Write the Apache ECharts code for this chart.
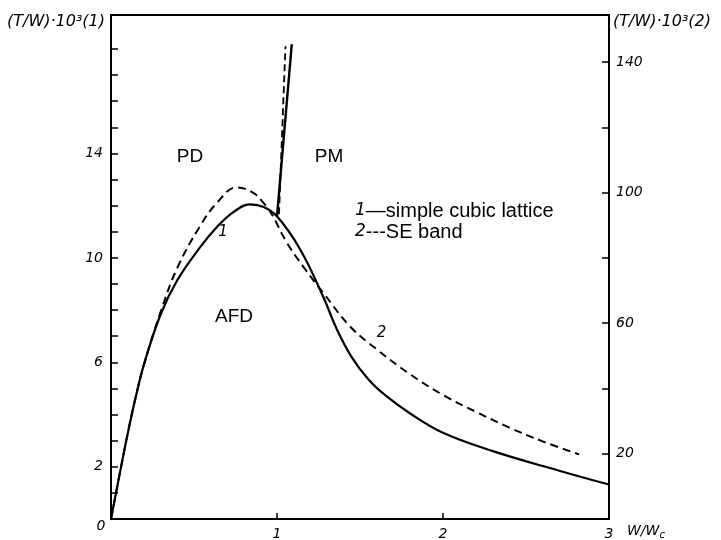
<!DOCTYPE html>
<html><head><meta charset="utf-8">
<script src="https://cdn.jsdelivr.net/npm/echarts@6/dist/echarts.min.js"></script>
<style>html,body{margin:0;padding:0;background:#fff}#c{width:721px;height:540px}</style>
</head><body><div id="c"></div>
<script>
// ---- data ----
const xLabelValues = [0, 1, 2, 3];
const xTickValues = [1, 2];
const leftLabelValues = [2, 6, 10, 14];
const leftTickValues = [1,2,3,4,5,6,7,8,9,10,11,12,13,14,15,16,17,18];
const rightLabelValues = [20, 60, 100, 140];
const rightTickValues = [20, 40, 60, 80, 100, 120, 140];

// curve 1: simple cubic lattice (left axis, (T/W)*10^3)
const curve1 = [[0,0],[0.05,1.65],[0.1,3.25],[0.15,4.7],[0.2,5.95],[0.3,7.85],[0.4,9.15],[0.536,10.4],[0.637,11.17],[0.735,11.74],[0.837,12.05],[0.92,11.95],[1.0,11.59],[1.139,10.33],[1.277,8.53],[1.361,7.26],[1.45,6.2],[1.55,5.35],[1.65,4.75],[1.8,4.05],[2.0,3.3],[2.3,2.6],[2.7,1.85],[3.0,1.32]];
// curve 2: SE band (right axis, (T/W)*10^3)
const curve2 = [[0,0],[0.05,13.2],[0.1,26],[0.15,37.6],[0.2,47.6],[0.3,63.6],[0.4,77],[0.536,89.7],[0.637,96.8],[0.757,101.6],[0.855,100],[0.916,97],[0.968,93.4],[1.058,84.8],[1.157,77.4],[1.277,69.4],[1.44,59],[1.6,52],[1.8,44.4],[2.0,38],[2.2,32.8],[2.4,28],[2.6,23.8],[2.82,19.8]];
// PD/PM phase boundaries
const boundary1 = [[1.0,11.59],[1.089,18.18]];
const boundary2 = [[1.012,93.4],[1.051,144.8]];
// annotation texts (left-axis data coordinates)
const annTexts = ['PD', 'PM', 'AFD'];
const annX = [0.476, 1.313, 0.741];
const annY = [13.89, 13.89, 7.75];
const curveTags = ['1', '2'];
const curveTagX = [0.675, 1.63];
const curveTagY = [11.0, 7.1];
const legendNames = ['simple cubic lattice', 'SE band'];

const chart = echarts.init(document.getElementById('c'), null, {renderer: 'canvas'});
const numFont = {fontFamily: 'DejaVu Sans', fontStyle: 'italic', fontSize: 14, color: '#000'};
const axisLineStyle = {color: '#000', width: 2};

const option = {
  backgroundColor: '#fff',
  animation: false,
  grid: {left: 111, right: 112, top: 15, bottom: 21, show: true, borderColor: '#000', borderWidth: 2,
    containLabel: false, outerBoundsMode: 'none'},
  legend: {
    data: legendNames,
    orient: 'vertical', left: 345, top: 196, itemWidth: 0, itemHeight: 0, itemGap: 1,
    icon: 'none', selectedMode: false,
    formatter: function (n) {
      return n === legendNames[0] ? '{i|1}—simple cubic lattice' : '{i|2}---SE band';
    },
    textStyle: {fontFamily: 'Liberation Sans', fontSize: 20, color: '#000',
      rich: {i: {fontFamily: 'DejaVu Sans', fontStyle: 'italic', fontSize: 17, color: '#000'}}}
  },
  xAxis: {
    type: 'value', min: 0, max: 3, interval: 1,
    axisLine: {lineStyle: axisLineStyle},
    axisTick: {inside: true, length: 6, customValues: xTickValues, lineStyle: {color: '#000', width: 1.5}},
    splitLine: {show: false},
    name: 'W/W{s|c}', nameLocation: 'end', nameGap: 18,
    nameTextStyle: Object.assign({}, numFont, {verticalAlign: 'top', padding: [3, 0, 0, 0],
      rich: {s: {fontFamily: 'DejaVu Sans', fontStyle: 'italic', fontSize: 10, color: '#000', padding: [8, 0, 0, 0]}}}),
    axisLabel: Object.assign({}, numFont, {
      customValues: xLabelValues, margin: 0,
      formatter: function (v) { return v === 0 ? '{z|0}' : '{n|' + v + '}'; },
      rich: {
        z: Object.assign({}, numFont, {padding: [0, 20, 0, 0]}),
        n: Object.assign({}, numFont, {padding: [8, 0, 0, 0]})
      }
    })
  },
  yAxis: [{
    type: 'value', min: 0, max: 19.3, position: 'left',
    axisLine: {show: true, lineStyle: axisLineStyle},
    axisTick: {show: true, inside: true, length: 7, customValues: leftTickValues, lineStyle: {color: '#000', width: 1.5}},
    splitLine: {show: false},
    axisLabel: Object.assign({}, numFont, {customValues: leftLabelValues, margin: 8}),
    name: '(T/W)·10³(1)', nameLocation: 'end', nameGap: -7,
    nameTextStyle: Object.assign({}, numFont, {fontSize: 16, align: 'right', verticalAlign: 'middle', padding: [0, 6, 0, 0]})
  }, {
    type: 'value', min: 0, max: 154.4, position: 'right',
    axisLine: {show: true, lineStyle: axisLineStyle},
    axisTick: {show: true, inside: true, length: 7, customValues: rightTickValues, lineStyle: {color: '#000', width: 1.5}},
    splitLine: {show: false},
    axisLabel: Object.assign({}, numFont, {customValues: rightLabelValues, margin: 7}),
    name: '(T/W)·10³(2)', nameLocation: 'end', nameGap: -7,
    nameTextStyle: Object.assign({}, numFont, {fontSize: 16, align: 'left', verticalAlign: 'middle', padding: [0, 0, 0, 4]})
  }],
  series: [
    {name: legendNames[0], type: 'line', yAxisIndex: 0, data: curve1, smooth: 0.4, showSymbol: false,
      lineStyle: {color: '#000', width: 2.2}, z: 3},
    {name: legendNames[1], type: 'line', yAxisIndex: 1, data: curve2, smooth: 0.4, showSymbol: false,
      lineStyle: {color: '#000', width: 2, type: [8, 5]}, z: 3},
    {name: 'b1', type: 'line', yAxisIndex: 0, data: boundary1, showSymbol: false,
      lineStyle: {color: '#000', width: 2.4}},
    {name: 'b2', type: 'line', yAxisIndex: 1, data: boundary2, showSymbol: false,
      lineStyle: {color: '#000', width: 1.8, type: [7, 4]}},
    {name: 'regions', type: 'scatter', yAxisIndex: 0, symbolSize: 0, silent: true,
      itemStyle: {opacity: 1},
      data: annTexts.map((t, i) => ({name: t, value: [annX[i], annY[i]]})),
      label: {show: true, position: 'inside', formatter: '{b}', fontFamily: 'Liberation Sans', fontSize: 19,
        color: '#000', opacity: 1, textBorderWidth: 0}},
    {name: 'tags', type: 'scatter', yAxisIndex: 0, symbolSize: 0, silent: true,
      itemStyle: {opacity: 1},
      data: curveTags.map((t, i) => ({name: t, value: [curveTagX[i], curveTagY[i]]})),
      label: {show: true, position: 'inside', formatter: '{b}', fontFamily: 'DejaVu Sans', fontStyle: 'italic', fontSize: 15,
        color: '#000', opacity: 1, textBorderWidth: 0}}
  ]
};
chart.setOption(option);
</script></body></html>
